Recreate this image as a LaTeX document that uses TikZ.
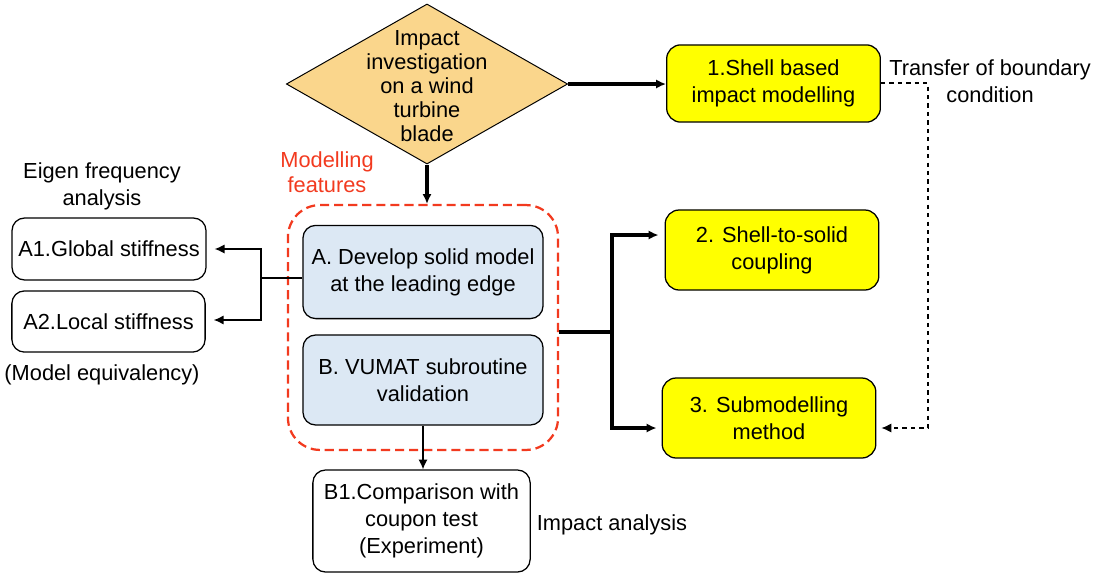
\documentclass[tikz,border=0pt]{standalone}
\usepackage{fontspec}
\setmainfont{Liberation Sans}
\usetikzlibrary{arrows.meta,calc,positioning,shapes.geometric}
\definecolor{BladeOrange}{HTML}{FAD68C}
\definecolor{FeatBlue}{HTML}{DCE8F4}
\definecolor{ModYellow}{HTML}{FFFF00}
\definecolor{FeatRed}{HTML}{F23A1F}

\begin{document}
\begin{tikzpicture}[>={Latex[length=7pt,width=6.5pt]},x=0.025cm,y=-0.025cm,
  every node/.style={font=\fontsize{15.5}{19.3}\selectfont},
  box/.style={draw,line width=0.9pt,rounded corners=9pt,align=center,inner sep=0pt},
  featbox/.style={box,fill=FeatBlue,minimum width=6cm},
  modbox/.style={box,fill=ModYellow,rounded corners=10pt,minimum width=5.34cm,minimum height=2cm},
  thinarrow/.style={->,line width=0.9pt},
  thickarrow/.style={->,line width=2.4pt}]
  \useasboundingbox (0,0) rectangle (1096,573);

  % start of the study
  \node[diamond,draw,line width=0.7pt,fill=BladeOrange,shape aspect=1.75,
    minimum width=7.03cm,minimum height=4cm,inner sep=0pt] (inv) at (427,84) {};
  \node[align=center,font=\fontsize{15.5}{17.2}\selectfont] (invtext) at (427,86) {Impact\\investigation\\on a wind\\turbine\\blade};

  % modelling features
  \node[draw,FeatRed,dashed,dash pattern=on 6.5pt off 3.5pt,line width=1.6pt,rounded corners=0.8cm,
    minimum width=6.75cm,minimum height=6.12cm] (feat) at (423,327.5) {};
  \node[FeatRed,align=center,font=\fontsize{15.5}{17.8}\selectfont] (featlabel) at (327,172) {Modelling\\features};
  \node[featbox,minimum height=2.33cm] (solid) at (423,272) {A. Develop solid model\\at the leading edge};
  \node[featbox,minimum height=2.25cm] (vumat) at (423,380) {B. VUMAT subroutine\\validation};

  % eigen frequency analysis
  \node[box,minimum width=4.85cm,minimum height=1.55cm] (glob) at (109,249) {A1.Global stiffness};
  \node[box,minimum width=4.83cm,minimum height=1.53cm] (loc) at (108.5,321.5) {A2.Local stiffness};
  \node[align=center] (eigen) at (102,186) {Eigen frequency\\analysis};
  \node (equiv) at (102,375) {(Model equivalency)};

  % impact analysis
  \node[box,minimum width=5.43cm,minimum height=2.55cm] (coupon) at (421.5,521) {B1.Comparison with\\coupon test\\(Experiment)};
  \node (impact) at (612,525) {Impact analysis};

  % modelling methods
  \node[modbox,minimum height=1.93cm] (shell) at (773.5,83.5) {1.Shell based\\impact modelling};
  \node[modbox] (coupling) at (772,250) {2. Shell-to-solid\\coupling};
  \node[modbox] (submod) at (769,418) {3. Submodelling\\method};
  \node[align=center] (transfer) at (990,81) {Transfer of boundary\\condition};

  % connectors
  \coordinate (lsplit) at (261,278);
  \coordinate (rsplit) at (612,332);
  \coordinate (bcx) at (928,83);
  \draw[thickarrow] (inv.east) -- (inv.east -| shell.west);
  \draw[thickarrow] (inv.south) -- (inv.south |- feat.north);
  \draw[line width=0.9pt] (lsplit -| solid.west) -- (lsplit);
  \draw[thinarrow,shorten >=0.2cm] (lsplit) |- (glob.east);
  \draw[thinarrow,shorten >=0.2cm] (lsplit) |- ($(loc.east)+(0,-1.5)$);
  \draw[line width=2.4pt] (rsplit -| feat.east) -- (rsplit);
  \draw[thickarrow] (rsplit) |- ($(coupling.west)+(-6,-15)$);
  \draw[thickarrow] (rsplit) |- ($(submod.west)+(-5,10)$);
  \draw[thinarrow] (vumat.south) -- (vumat.south |- coupon.north);
  \draw[->,dashed,line width=0.8pt] (shell.east |- bcx) -- (bcx) |- ($(submod.east)+(5,10)$);
\end{tikzpicture}
\end{document}
